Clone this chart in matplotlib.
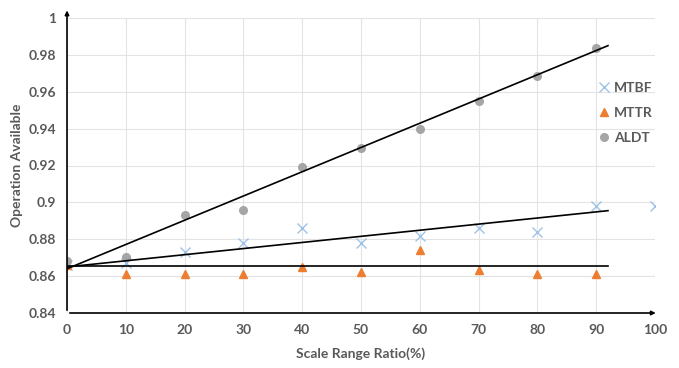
import matplotlib.pyplot as plt

# data
ratio = [0, 10, 20, 30, 40, 50, 60, 70, 80, 90]
mtbf_x = [0, 10, 20, 30, 40, 50, 60, 70, 80, 90, 100]
mtbf = [0.866, 0.867, 0.873, 0.878, 0.886, 0.878, 0.882, 0.886, 0.884, 0.898, 0.898]
mttr = [0.866, 0.861, 0.861, 0.861, 0.865, 0.8625, 0.874, 0.8633, 0.861, 0.861]
aldt = [0.868, 0.8705, 0.893, 0.896, 0.919, 0.9295, 0.940, 0.955, 0.9685, 0.9835]

# trend lines (start / end)
trend_x = [0, 92]
trend_aldt = [0.864, 0.985]
trend_mtbf = [0.865, 0.8955]
trend_mttr = [0.8655, 0.8655]

plt.rcParams['font.family'] = ['Lato', 'DejaVu Sans']
txt = '#595959'

fig = plt.figure(figsize=(6.79, 3.68), dpi=100)
ax = fig.add_axes([67 / 679, 55 / 368, 588 / 679, 295 / 368])

ax.plot(mtbf_x, mtbf, 'x', color='#9dc3e6', markersize=7, markeredgewidth=1.0, label='MTBF', zorder=3)
ax.plot(ratio, mttr, '^', color='#ed7d31', markersize=6, label='MTTR', zorder=3)
ax.plot(ratio, aldt, 'o', color='#a5a5a5', markersize=5.5, label='ALDT', zorder=3)

for t in (trend_aldt, trend_mtbf, trend_mttr):
    ax.plot(trend_x, t, color='black', linewidth=1.2, zorder=4)

ax.set_xlim(0, 100)
ax.set_ylim(0.84, 1.0)
ax.set_xticks(range(0, 101, 10))
ax.set_yticks([0.84, 0.86, 0.88, 0.9, 0.92, 0.94, 0.96, 0.98, 1.0])
ax.set_yticklabels(['0.84', '0.86', '0.88', '0.9', '0.92', '0.94', '0.96', '0.98', '1'])
ax.grid(True, color='#e3e3e3', linewidth=0.8)
ax.set_axisbelow(True)
for s in ax.spines.values():
    s.set_visible(False)
ax.tick_params(length=0, labelsize=10, labelcolor=txt, pad=8)
for lab in ax.get_xticklabels() + ax.get_yticklabels():
    lab.set_fontweight('bold')

# axis arrows
ax.annotate('', xy=(0, 1.035), xytext=(0, 0), xycoords='axes fraction',
            arrowprops=dict(arrowstyle='-|>', color='black', lw=1.2, mutation_scale=6))
ax.annotate('', xy=(1.006, 0), xytext=(0, 0), xycoords='axes fraction',
            arrowprops=dict(arrowstyle='-|>', color='black', lw=1.2, mutation_scale=6))

ax.set_xlabel('Scale Range Ratio(%)', fontsize=10, fontweight='bold', color=txt, labelpad=8)
ax.set_ylabel('Operation Available', fontsize=10, fontweight='bold', color=txt, labelpad=4)

fig.legend(loc='center left', bbox_to_anchor=(586 / 679, 1 - 113 / 368), frameon=False,
           handlelength=0.8, handletextpad=0.3, labelspacing=0.95,
           prop={'size': 10, 'weight': 'bold'}, labelcolor=txt)

fig.savefig('out.png', dpi=100)
